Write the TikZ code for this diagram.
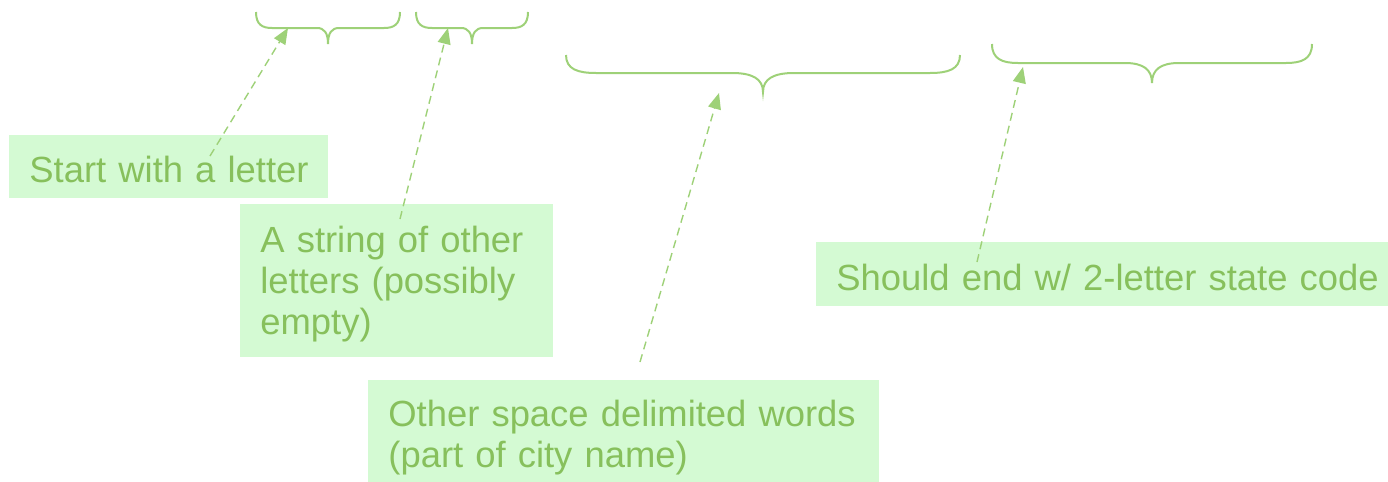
\documentclass[tikz,border=0pt]{standalone}
\usepackage{fontspec}
\setmainfont{Liberation Sans}
\usetikzlibrary{arrows.meta}

\definecolor{boxfill}{HTML}{D4FAD3}
\definecolor{txtgreen}{HTML}{87C05C}
\definecolor{linegreen}{HTML}{9ED178}

% curly brace opening downwards: #1 left x, #2 right x, #3 top y,
% #4 bar y, #5 tip y, #6 corner run, #7 half width of the middle bend
\newcommand\curlybrace[7]{%
  \draw[bracestroke]
    (#1,#3) .. controls (#1,{#3+0.8*(#4-#3)}) and ({#1+0.4*#6},#4) .. ({#1+#6},#4)
    -- ({(#1+#2)/2-#7},#4)
    .. controls ({(#1+#2)/2-0.35*#7},#4) and ({(#1+#2)/2},{#4+0.3*(#5-#4)}) .. ({(#1+#2)/2},#5)
    .. controls ({(#1+#2)/2},{#4+0.3*(#5-#4)}) and ({(#1+#2)/2+0.35*#7},#4) .. ({(#1+#2)/2+#7},#4)
    -- ({#2-#6},#4)
    .. controls ({#2-0.4*#6},#4) and (#2,{#3+0.8*(#4-#3)}) .. (#2,#3);}

\tikzset{
  notebox/.style={fill=boxfill, text=txtgreen, anchor=north west,
    inner xsep=10pt, inner ysep=0pt, align=left,
    font=\fontsize{18.2pt}{20.5pt}\selectfont},
  bracestroke/.style={draw=linegreen, line width=1pt},
  pointer/.style={draw=linegreen, line width=0.7pt,
    dash pattern=on 4pt off 2.6pt,
    -{Triangle[length=8pt,width=6.5pt,fill=linegreen]}}
}

\begin{document}
\begin{tikzpicture}[x=0.5pt,y=-0.5pt]
\useasboundingbox (0,0) rectangle (1388,482);

% explanation boxes (each line kept whole)
\node[notebox, text width=139.5pt, text height=23.5pt, text depth=8pt]
  (first) at (9,135) {\mbox{Start with a letter}};
\node[notebox, text width=136.5pt, text height=24pt, text depth=52.5pt]
  (rest) at (240,204) {\mbox{A string of other}\\\mbox{letters (possibly}\\\mbox{empty)}};
\node[notebox, text width=235.5pt, text height=23pt, text depth=30pt]
  (words) at (368,380) {\mbox{Other space delimited words}\\\mbox{(part of city name)}};
\node[notebox, text width=272pt, text height=24pt, text depth=8pt]
  (state) at (816,242) {\mbox{Should end w/ 2-letter state code}};

% braces over the parts of the pattern
\curlybrace{256}{400}{12}{28}{44}{16}{11}
\curlybrace{416}{528}{12}{28}{44}{16}{11}
\curlybrace{566}{960}{55}{73}{92}{30}{31}
\curlybrace{992}{1312}{44}{63}{83}{26}{27}

% pointer ends
\coordinate (t1) at (210,156);
\coordinate (h1) at (288,28);
\coordinate (t2) at (400,219);
\coordinate (h2) at (448,28);
\coordinate (t3) at (640,362);
\coordinate (h3) at (719,93);
\coordinate (t4) at (977,262);
\coordinate (h4) at (1023,67);

\draw[pointer] (t1) -- (h1);
\draw[pointer] (t2) -- (h2);
\draw[pointer] (t3) -- (h3);
\draw[pointer] (t4) -- (h4);
\end{tikzpicture}
\end{document}
